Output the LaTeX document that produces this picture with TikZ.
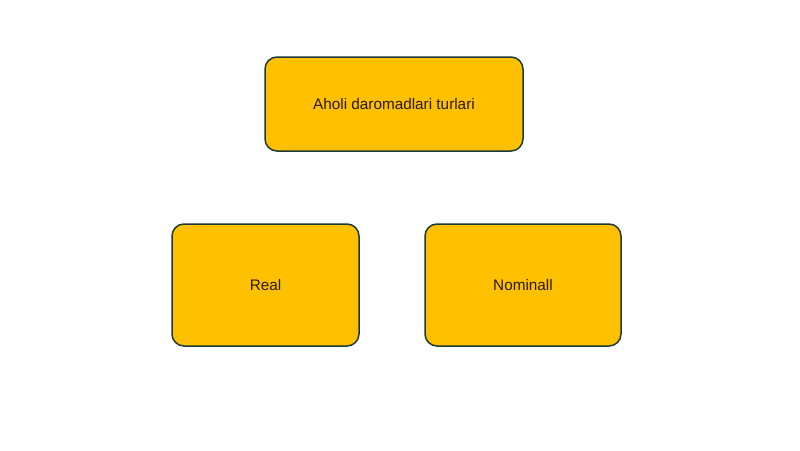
\documentclass[tikz,border=0pt]{standalone}
\usepackage{fontspec}
\setmainfont{Liberation Sans}
\definecolor{boxfill}{HTML}{FFC000}
\definecolor{boxline}{HTML}{1E3A36}
\definecolor{txt}{HTML}{2A1A00}
\begin{document}
\begin{tikzpicture}[x=1pt,y=-1pt,
  box/.style={draw=boxline, fill=boxfill, line width=1.5pt, rounded corners=12pt,
    text=txt, font=\fontsize{15.3}{18}\selectfont, inner sep=0pt}]
\useasboundingbox[fill=white] (0,0) rectangle (800,450);
\node[box, minimum width=258pt, minimum height=94pt] (top) at (394,104) {Aholi daromadlari turlari};
\node[box, minimum width=187pt, minimum height=122pt] (real) at (265.5,285) {Real};
\node[box, minimum width=196pt, minimum height=122pt] (nom) at (523,285) {Nominall};
\end{tikzpicture}
\end{document}
